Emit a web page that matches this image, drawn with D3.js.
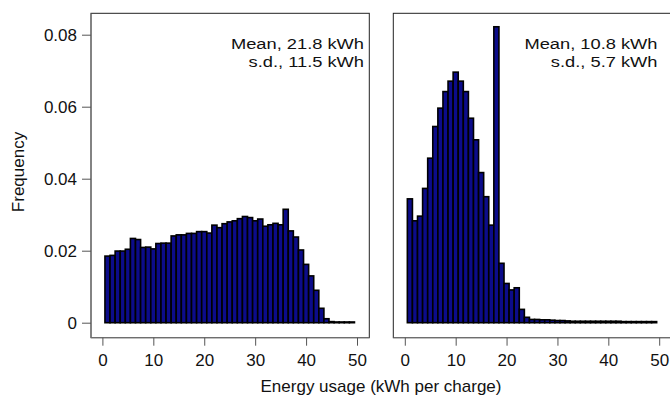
<!DOCTYPE html>
<html>
<head>
<meta charset="utf-8">
<script src="https://cdn.jsdelivr.net/npm/d3@7"></script>
<style>
  html, body { margin: 0; padding: 0; background: #fff; }
  svg { display: block; font-family: "Liberation Sans", Arial, Helvetica, sans-serif; }
</style>
</head>
<body>
<svg id="chart" width="670" height="396"></svg>
<script>
// Histogram bins: 1 kWh wide, labelled by their centre (kWh per charge)
const binCenters = d3.range(1, 50);
const binWidth = 1;

// Relative frequency per bin (left panel)
const freqA = [
  0.0185, 0.0187, 0.0199, 0.0199, 0.0204, 0.0234, 0.0231, 0.0209, 0.0210, 0.0205,
  0.0220, 0.0221, 0.0221, 0.0241, 0.0244, 0.0244, 0.0248, 0.0248, 0.0253, 0.0253,
  0.0249, 0.0271, 0.0264, 0.0275, 0.0280, 0.0283, 0.0289, 0.0295, 0.0292, 0.0283,
  0.0288, 0.0268, 0.0272, 0.0276, 0.0272, 0.0315, 0.0255, 0.0238, 0.0202, 0.0162,
  0.0130, 0.0090, 0.0040, 0.0011, 0.0003, 0.0002, 0.0002, 0.0002, 0.0002
];

// Relative frequency per bin (right panel)
const freqB = [
  0.0344, 0.0283, 0.0296, 0.0373, 0.0457, 0.0545, 0.0596, 0.0642, 0.0671, 0.0696,
  0.0671, 0.0642, 0.0568, 0.0508, 0.0417, 0.0350, 0.0271, 0.0822, 0.0165, 0.0109,
  0.0091, 0.0097, 0.0037, 0.0015, 0.0009, 0.0009, 0.0008, 0.0008, 0.0007, 0.0006,
  0.0006, 0.0005, 0.0004, 0.0004, 0.0004, 0.0004, 0.0004, 0.0004, 0.0004, 0.0004,
  0.0004, 0.0004, 0.0003, 0.0003, 0.0003, 0.0003, 0.0003, 0.0003, 0.0003
];

// Summary text per panel
const statsA = ["Mean, 21.8 kWh", "s.d., 11.5 kWh"];
const statsB = ["Mean, 10.8 kWh", "s.d., 5.7 kWh"];

// Axis ticks and titles
const xTicks = [0, 10, 20, 30, 40, 50];
const yTicks = [0, 0.02, 0.04, 0.06, 0.08];
const yTickLabels = ["0", "0.02", "0.04", "0.06", "0.08"];
const xTitle = "Energy usage (kWh per charge)";
const yTitle = "Frequency";

const svg = d3.select("#chart");
const FONT = 17;
const STAT_FONT = 15.5;

const y = d3.scaleLinear().domain([0, 0.08]).range([322.7, 34.7]);

const panels = [
  { freq: freqA, stats: statsA, box: [91, 369.3], xr: [102.4, 357], textX: 364, yAxis: true },
  { freq: freqB, stats: statsB, box: [393.3, 673], xr: [404.8, 659.2], textX: 657.5, yAxis: false }
];
const boxTop = 13.3, boxBottom = 337.7;

panels.forEach(p => {
  const x = d3.scaleLinear().domain([0, 50]).range(p.xr);
  const g = svg.append("g");

  // frame
  g.append("rect")
    .attr("x", p.box[0]).attr("y", boxTop)
    .attr("width", p.box[1] - p.box[0]).attr("height", boxBottom - boxTop)
    .attr("fill", "none").attr("stroke", "#222").attr("stroke-width", 1);

  // bars
  const bins = binCenters.map((c, i) => ({ c, v: p.freq[i] }));
  g.append("g").selectAll("rect").data(bins).join("rect")
    .attr("x", d => x(d.c - binWidth / 2))
    .attr("width", d => x(d.c + binWidth / 2) - x(d.c - binWidth / 2))
    .attr("y", d => y(d.v))
    .attr("height", d => y(0) - y(d.v))
    .attr("fill", "#0c0c8a")
    .attr("stroke", "#000")
    .attr("stroke-width", 1.6);

  // x axis
  const xa = g.append("g").attr("transform", `translate(0,${boxBottom})`)
    .call(d3.axisBottom(x).tickValues(xTicks).tickSize(8).tickPadding(8).tickSizeOuter(0));
  xa.select(".domain").attr("d", `M${p.box[0]},0H${p.box[1]}`).attr("stroke", "#777");
  xa.selectAll(".tick line").attr("stroke", "#555");
  xa.selectAll(".tick text").attr("font-size", FONT).attr("fill", "#111")
    .attr("font-family", "Liberation Sans, Arial, sans-serif");

  if (p.yAxis) {
    const ya = g.append("g").attr("transform", `translate(${p.box[0]},0)`)
      .call(d3.axisLeft(y).tickValues(yTicks).tickFormat((d, i) => yTickLabels[i])
        .tickSize(9).tickPadding(5).tickSizeOuter(0));
    ya.select(".domain").attr("d", `M0,${boxTop}V${boxBottom}`).attr("stroke", "#777");
    ya.selectAll(".tick line").attr("stroke", "#555");
    ya.selectAll(".tick text").attr("font-size", FONT).attr("fill", "#111")
      .attr("font-family", "Liberation Sans, Arial, sans-serif");
  }

  // summary statistics (slightly wide lettering, right-aligned in the corner)
  g.selectAll("text.stat").data(p.stats).join("text")
    .attr("class", "stat")
    .attr("transform", (d, i) => `translate(${p.textX},${49 + i * 17.8}) scale(1.18,1)`)
    .attr("text-anchor", "end")
    .attr("font-size", STAT_FONT)
    .attr("fill", "#111")
    .text(d => d);
});

// axis titles
svg.append("text")
  .attr("x", 381).attr("y", 391.5)
  .attr("text-anchor", "middle")
  .attr("font-size", FONT).attr("fill", "#111")
  .text(xTitle);

svg.append("text")
  .attr("transform", "translate(24,172) rotate(-90)")
  .attr("text-anchor", "middle")
  .attr("font-size", FONT).attr("fill", "#111")
  .text(yTitle);
</script>
</body>
</html>
